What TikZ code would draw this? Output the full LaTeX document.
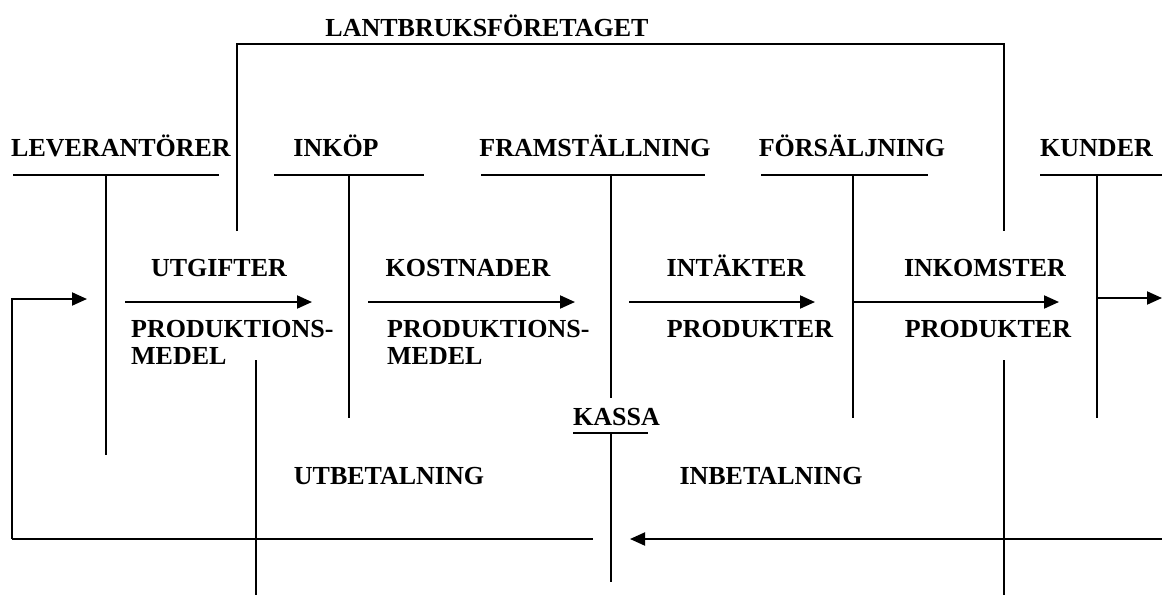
\documentclass[tikz,border=0pt]{standalone}
\usepackage{fontspec}
\setmainfont{Liberation Serif}
\usetikzlibrary{arrows.meta}
\begin{document}
\begin{tikzpicture}[x=1pt,y=-1pt,
  lbl/.style={inner sep=0pt, font=\fontsize{26}{20}\selectfont\bfseries},
  ln/.style={line width=2pt},
  arr/.style={line width=2pt,-{Triangle[length=15pt,width=13pt]}}]
\useasboundingbox (0,0) rectangle (1162,595);

% texts
\node[lbl,anchor=base] (title) at (487,36) {LANTBRUKSFÖRETAGET};
\node[lbl,anchor=base west] (lev) at (11,156) {LEVERANTÖRER};
\node[lbl,anchor=base] (ink) at (336,156) {INKÖP};
\node[lbl,anchor=base] (fram) at (595,156) {FRAMSTÄLLNING};
\node[lbl,anchor=base] (fors) at (852,156) {FÖRSÄLJNING};
\node[lbl,anchor=base west] (kund) at (1040,156) {KUNDER};

\node[lbl,anchor=base] (utg) at (219,276) {UTGIFTER};
\node[lbl,anchor=base] (kost) at (468,276) {KOSTNADER};
\node[lbl,anchor=base] (intak) at (736,276) {INTÄKTER};
\node[lbl,anchor=base] (inkom) at (985,276) {INKOMSTER};

\node[lbl,anchor=base west] (pmA) at (131,337) {PRODUKTIONS-};
\node[lbl,anchor=base west] (pmB) at (131,364) {MEDEL};
\node[lbl,anchor=base west] (pmC) at (387,337) {PRODUKTIONS-};
\node[lbl,anchor=base west] (pmD) at (387,364) {MEDEL};
\node[lbl,anchor=base] (prA) at (750,337) {PRODUKTER};
\node[lbl,anchor=base] (prB) at (988,337) {PRODUKTER};

\node[lbl,anchor=base west] (kassa) at (573,425) {KASSA};
\node[lbl,anchor=base] (utb) at (389,484) {UTBETALNING};
\node[lbl,anchor=base] (inb) at (771,484) {INBETALNING};

% coordinates
\coordinate (brL) at (237,231); \coordinate (brTL) at (237,44);
\coordinate (brTR) at (1004,44); \coordinate (brR) at (1004,231);

\coordinate (levL) at (13,175); \coordinate (levR) at (219,175);
\coordinate (levT) at (106,175); \coordinate (levB) at (106,455);
\coordinate (inkL) at (274,175); \coordinate (inkR) at (424,175);
\coordinate (inkT) at (349,175); \coordinate (inkB) at (349,418);
\coordinate (frL) at (481,175); \coordinate (frR) at (705,175);
\coordinate (frT) at (611,175); \coordinate (frB) at (611,398);
\coordinate (foL) at (761,175); \coordinate (foR) at (928,175);
\coordinate (foT) at (853,175); \coordinate (foB) at (853,418);
\coordinate (kuL) at (1040,175); \coordinate (kuR) at (1162,175);
\coordinate (kuT) at (1097,175); \coordinate (kuB) at (1097,418);

\coordinate (a1s) at (125,302); \coordinate (a1e) at (312,302);
\coordinate (a2s) at (368,302); \coordinate (a2e) at (575,302);
\coordinate (a3s) at (629,302); \coordinate (a3e) at (815,302);
\coordinate (a4s) at (853,302); \coordinate (a4e) at (1059,302);
\coordinate (a5s) at (1097,298); \coordinate (a5e) at (1162,298);

\coordinate (fbB) at (12,539); \coordinate (fbT) at (12,299); \coordinate (fbE) at (87,299);
\coordinate (botE) at (593,539);
\coordinate (inS) at (1162,539); \coordinate (inE) at (630,539);

\coordinate (kaL) at (573,433); \coordinate (kaR) at (648,433);
\coordinate (kaT) at (611,433); \coordinate (kaB) at (611,582);
\coordinate (u1T) at (256,360); \coordinate (u1B) at (256,595);
\coordinate (u2T) at (1004,360); \coordinate (u2B) at (1004,595);

% lines
\draw[ln] (brL) -- (brTL) -- (brTR) -- (brR);
\draw[ln] (levL) -- (levR); \draw[ln] (levT) -- (levB);
\draw[ln] (inkL) -- (inkR); \draw[ln] (inkT) -- (inkB);
\draw[ln] (frL) -- (frR); \draw[ln] (frT) -- (frB);
\draw[ln] (foL) -- (foR); \draw[ln] (foT) -- (foB);
\draw[ln] (kuL) -- (kuR); \draw[ln] (kuT) -- (kuB);

\draw[arr] (a1s) -- (a1e);
\draw[arr] (a2s) -- (a2e);
\draw[arr] (a3s) -- (a3e);
\draw[arr] (a4s) -- (a4e);
\draw[arr] (a5s) -- (a5e);

\draw[arr] (fbB) -- (fbT) -- (fbE);
\draw[ln] (fbB) -- (botE);
\draw[arr] (inS) -- (inE);

\draw[ln] (kaL) -- (kaR); \draw[ln] (kaT) -- (kaB);
\draw[ln] (u1T) -- (u1B);
\draw[ln] (u2T) -- (u2B);
\end{tikzpicture}
\end{document}
